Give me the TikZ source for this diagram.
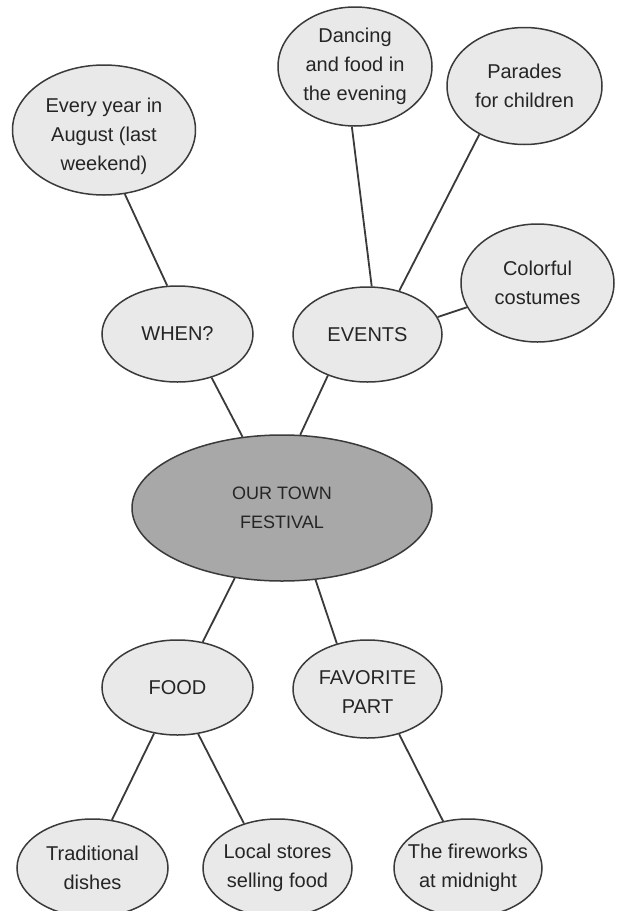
\documentclass[tikz,border=0pt]{standalone}
\usepackage{fontspec}
\setmainfont{Liberation Sans}
\usetikzlibrary{shapes.geometric}
\definecolor{linec}{HTML}{3A3A3A}
\definecolor{bubfill}{HTML}{E9E9E9}
\definecolor{hubfill}{HTML}{A8A8A8}
\definecolor{txtc}{HTML}{252525}
\begin{document}
\begin{tikzpicture}[x=1pt,y=-1pt,
  bub/.style={ellipse, draw=linec, line width=1.5pt, fill=bubfill, inner sep=0pt},
  hub/.style={bub, fill=hubfill},
  lbl/.style={align=center, text=txtc, inner sep=0pt, font=\fontsize{20}{29}\selectfont},
  hublbl/.style={lbl, font=\fontsize{18}{29}\selectfont},
  link/.style={draw=linec, line width=1.8pt}]
\clip (0,0) rectangle (619,911);
\fill[white] (0,0) rectangle (619,911);

\node[bub, minimum width=183pt, minimum height=130pt, label={[lbl, yshift=-6pt]center:{Every year in\\August (last\\weekend)}}] (every) at (104,130) {};
\node[bub, minimum width=154pt, minimum height=119pt, label={[lbl]center:{Dancing\\and food in\\the evening}}] (dance) at (355,66.5) {};
\node[bub, minimum width=155pt, minimum height=117pt, label={[lbl]center:{Parades\\for children}}] (parade) at (524.5,86) {};
\node[bub, minimum width=153pt, minimum height=118pt, label={[lbl]center:{Colorful\\costumes}}] (colorful) at (537.5,283) {};
\node[bub, minimum width=151pt, minimum height=96pt, label={[lbl]center:{WHEN?}}] (when) at (177.5,334) {};
\node[bub, minimum width=149pt, minimum height=95pt, label={[lbl]center:{EVENTS}}] (events) at (367.5,334.5) {};
\node[hub, minimum width=300pt, minimum height=146pt, label={[hublbl]center:{OUR TOWN\\FESTIVAL}}] (fest) at (282,508) {};
\node[bub, minimum width=151pt, minimum height=95pt, label={[lbl]center:{FOOD}}] (food) at (177.5,687.5) {};
\node[bub, minimum width=149pt, minimum height=98pt, label={[lbl, yshift=-3pt]center:{FAVORITE\\PART}}] (fav) at (367.5,689) {};
\node[bub, minimum width=151pt, minimum height=98pt, label={[lbl]center:{Traditional\\dishes}}] (trad) at (92.5,868) {};
\node[bub, minimum width=149pt, minimum height=98pt, label={[lbl]center:{Local stores\\selling food}}] (local) at (277.5,868) {};
\node[bub, minimum width=148pt, minimum height=98pt, label={[lbl]center:{The fireworks\\at midnight}}] (fire) at (468,868) {};

\draw[link] (every.-72) -- (when.102);
\draw[link] (when.-52) -- (fest.119);
\draw[link] (events.-134) -- (fest.76);
\draw[link] (events.14) -- (colorful.-161);
\draw[link] (dance.-93) -- (events.85);
\draw[link] (parade.-133) -- (events.54);
\draw[link] (fest.-124) -- (food.61);
\draw[link] (fest.-65) -- (fav.124);
\draw[link] (food.-117) -- (trad.68);
\draw[link] (food.-66) -- (local.127);
\draw[link] (fav.-55) -- (fire.118);
\end{tikzpicture}
\end{document}
